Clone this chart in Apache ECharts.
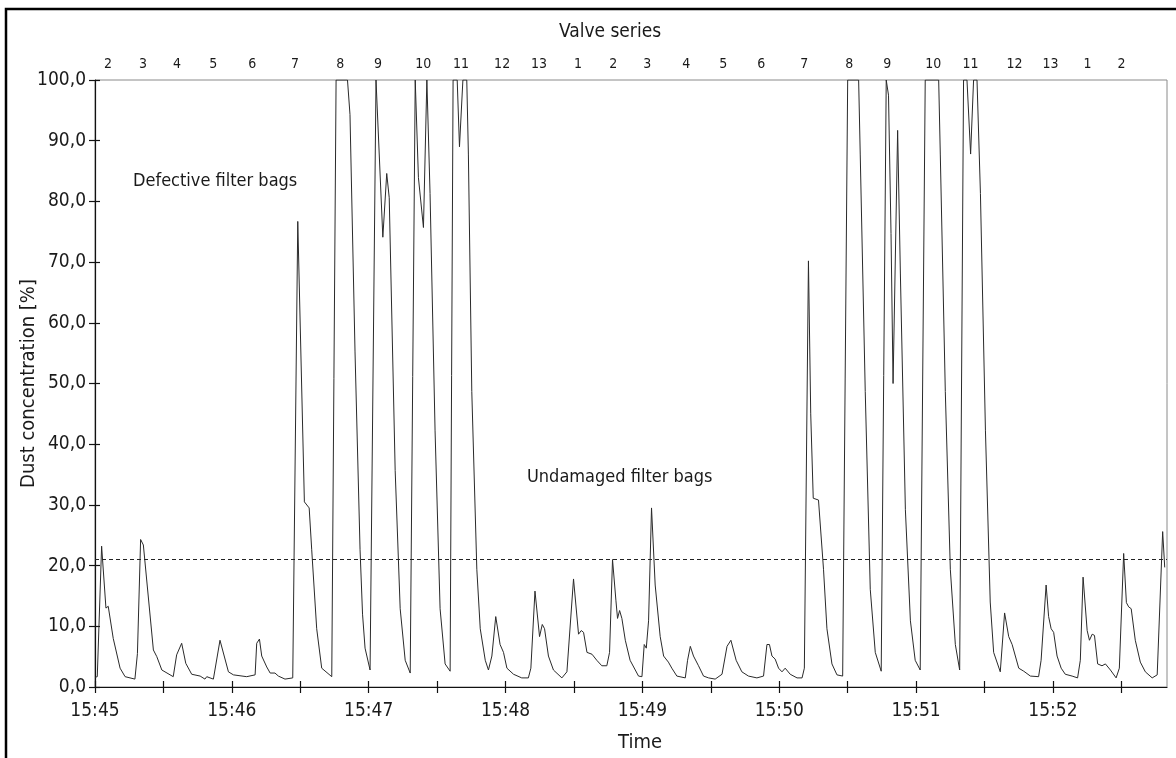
<!DOCTYPE html>
<html>
<head>
<meta charset="utf-8">
<title>Dust concentration</title>
<script src="https://cdn.jsdelivr.net/npm/echarts@6/dist/echarts.min.js"></script>
<style>
  html, body { margin: 0; padding: 0; background: #fff; }
  #chart { width: 1176px; height: 758px; }
</style>
</head>
<body>
<div id="chart"></div>
<script>
// seconds after 15:45:00
let timeTicks = [0, 30, 60, 90, 120, 150, 180, 210, 240, 270, 300, 330, 360, 390, 420, 450];
let timeLabels = [0, 60, 120, 180, 240, 300, 360, 420];

// valve series (top axis) - position in seconds and valve number
let valveSec = [5.7, 21.1, 36.0, 51.8, 68.9, 87.7, 107.5, 124.1, 143.9, 160.5, 178.5, 194.7,
    211.8, 227.2, 242.1, 259.2, 275.4, 292.1, 311.0, 330.7, 347.4, 367.5, 383.8, 403.1, 418.9,
    435.1, 450.0];
let valveNo = ['2', '3', '4', '5', '6', '7', '8', '9', '10', '11', '12', '13',
    '1', '2', '3', '4', '5', '6', '7', '8', '9', '10', '11', '12', '13',
    '1', '2'];

// limit line
let limitValue = 21;

// measured dust concentration [time s, %]
let dust = [
    [0, 1.6], [1.0, 1.7], [2.9, 23.2], [4.8, 13.0], [5.8, 13.3], [8.0, 8.0], [11.0, 3.1], [13.2, 1.7],
    [17.5, 1.3], [18.6, 5.5], [20.0, 24.3], [21.2, 23.4], [25.6, 6.1], [27.1, 5.0], [29.3, 2.8], [34.3, 1.7],
    [35.8, 5.3], [38.0, 7.2], [39.8, 3.9], [42.4, 2.1], [46.1, 1.8], [48.2, 1.3], [49.0, 1.7], [51.9, 1.3],
    [54.8, 7.7], [58.5, 2.5], [60.7, 2.0], [66.5, 1.7], [70.2, 2.0], [70.9, 7.2], [72.1, 7.9], [73.1, 5.1],
    [75.3, 3.3], [76.8, 2.3], [78.9, 2.3], [80.4, 1.8], [83.3, 1.3], [86.7, 1.5],
    [88.9, 76.7], [91.8, 30.5], [93.9, 29.5], [95.0, 22.7], [97.2, 9.6], [99.4, 3.1], [103.8, 1.7],
    [105.7, 100], [110.7, 100], [111.8, 94.3], [114.0, 55.2], [116.2, 22.7], [117.3, 12.0], [118.4, 6.4], [120.6, 2.8],
    [121.4, 2.8], [123.2, 100], [123.8, 100], [126.2, 74.1], [127.9, 84.6], [129.0, 80.6], [131.6, 35.7],
    [133.8, 12.9], [136.0, 4.4], [138.2, 2.3],
    [140.4, 100], [141.8, 83.9], [144.0, 75.7], [145.5, 100], [145.9, 100], [146.9, 81.3], [149.1, 42.2],
    [151.3, 12.9], [153.5, 3.8], [155.7, 2.6],
    [157.0, 100], [158.8, 100], [159.8, 89.0], [161.3, 100], [163.0, 100], [163.7, 87.8], [165.2, 48.7],
    [167.4, 19.4], [168.9, 9.6], [171.1, 4.4], [172.5, 2.8],
    [174.0, 5.1], [175.7, 11.6], [177.6, 7.0], [179.1, 5.7], [180.6, 3.1], [183.5, 2.1], [187.1, 1.5],
    [190.0, 1.5], [191.1, 3.1], [192.9, 15.8], [194.9, 8.3], [196.1, 10.3], [197.1, 9.6], [198.8, 5.1],
    [201.0, 2.8], [204.7, 1.5], [206.9, 2.5], [209.8, 17.8], [212.0, 8.7], [213.2, 9.3], [214.2, 9.0],
    [215.7, 5.7], [217.9, 5.4], [220.0, 4.4], [222.2, 3.5], [224.4, 3.5], [225.6, 5.7], [226.9, 21.0],
    [228.4, 14.2], [229.1, 11.3], [230.0, 12.6], [231.0, 11.3], [232.5, 7.7], [234.6, 4.4], [238.3, 1.8],
    [239.8, 1.7], [240.8, 7.0], [241.7, 6.4], [242.7, 10.9], [244.0, 29.5], [245.6, 16.8], [247.8, 8.3],
    [249.3, 5.1], [251.4, 4.1], [252.9, 3.1], [255.1, 1.8], [258.8, 1.5], [259.8, 4.4], [261.0, 6.7],
    [262.4, 5.1], [264.6, 3.5], [266.8, 1.8], [269.0, 1.5], [271.9, 1.3], [274.9, 2.1], [277.1, 6.7],
    [278.8, 7.7], [281.1, 4.4], [283.6, 2.5], [286.5, 1.8], [290.2, 1.5], [293.1, 1.8], [294.6, 7.0],
    [295.7, 7.0], [296.8, 5.1], [298.2, 4.6], [299.7, 3.1], [301.2, 2.5], [302.6, 3.1], [304.8, 2.1],
    [307.8, 1.5], [310.0, 1.5], [311.0, 3.1],
    [312.8, 70.2], [313.8, 45.0], [314.9, 31.1], [317.2, 30.8], [319.4, 19.4], [320.9, 9.6], [323.1, 3.8],
    [325.3, 2.0], [327.8, 1.8],
    [330.0, 100], [334.8, 100], [335.5, 87.8], [337.7, 48.7], [339.9, 16.1], [342.1, 5.7], [344.7, 2.6],
    [346.9, 100], [347.9, 97.5], [349.0, 74.7], [349.9, 50.0], [351.9, 91.7], [353.1, 68.2], [355.3, 29.2],
    [357.5, 10.9], [359.6, 4.4], [361.8, 2.8],
    [364.0, 100], [369.9, 100], [370.6, 87.8], [372.8, 48.7], [375.0, 19.4], [377.2, 7.0], [379.1, 2.8],
    [380.8, 100], [382.3, 100], [383.9, 87.8], [385.2, 100], [386.7, 100], [388.2, 81.3], [390.4, 42.2],
    [392.5, 14.0], [394.0, 5.7], [396.9, 2.5],
    [398.8, 12.2], [400.6, 8.3], [402.1, 7.0], [405.0, 3.1], [407.2, 2.6], [410.1, 1.8], [413.7, 1.7],
    [414.8, 4.4], [417.0, 16.8], [418.1, 11.6], [419.2, 9.6], [420.3, 9.0], [421.8, 5.1], [423.6, 3.1],
    [425.4, 2.1], [428.4, 1.8], [430.8, 1.5], [432.0, 4.4], [433.2, 18.1], [435.0, 9.3], [436.0, 7.7],
    [437.2, 8.7], [438.2, 8.5], [439.6, 3.8], [441.5, 3.5], [443.0, 3.8], [445.2, 2.8], [447.7, 1.5],
    [449.1, 3.1], [451.0, 22.0], [452.2, 13.9], [453.2, 13.2], [454.3, 12.9], [456.1, 7.7], [458.3, 4.1],
    [460.5, 2.5], [463.5, 1.5], [465.7, 2.0], [466.4, 1.8], [468.1, 25.6], [469.0, 19.7]
];

let fontFam = "'Liberation Sans Narrow', 'DejaVu Sans Condensed', 'Roboto', sans-serif";

function timeText(v) {
    let m = 45 + Math.round(v / 60);
    return '15:' + m;
}

function valveText(v) {
    let best = 0;
    for (let i = 0; i < valveSec.length; i++) {
        if (Math.abs(valveSec[i] - v) < Math.abs(valveSec[best] - v)) best = i;
    }
    return valveNo[best];
}

var myChart = echarts.init(document.getElementById('chart'));

option = {
    animation: false,
    backgroundColor: '#fff',
    textStyle: { fontFamily: fontFam, color: '#1a1a1a' },
    grid: {
        left: 95,
        right: 9,
        top: 80,
        bottom: 71,
        outerBoundsMode: 'none',
        containLabel: false,
        show: true,
        borderColor: '#8a8a8a',
        borderWidth: 1
    },
    xAxis: [{
        type: 'value',
        min: 0,
        max: 470,
        position: 'bottom',
        name: 'Time',
        nameLocation: 'middle',
        nameGap: 46,
        nameMoveOverlap: false,
        nameTextStyle: { fontSize: 20, color: '#1a1a1a', fontFamily: fontFam, padding: [0, 0, 0, 18] },
        axisLine: { lineStyle: { color: '#111', width: 1.2 } },
        axisTick: { show: true, length: 6, customValues: timeTicks, lineStyle: { color: '#111', width: 1.2 } },
        axisLabel: {
            customValues: timeLabels,
            formatter: timeText,
            fontSize: 19,
            color: '#1a1a1a',
            margin: 15,
            fontFamily: fontFam
        },
        splitLine: { show: false }
    }, {
        // inner half of the crossing ticks
        type: 'value',
        min: 0,
        max: 470,
        position: 'bottom',
        axisLine: { show: false },
        axisTick: { show: true, inside: true, length: 6, customValues: timeTicks, lineStyle: { color: '#111', width: 1.2 } },
        axisLabel: { show: false },
        splitLine: { show: false }
    }, {
        type: 'value',
        min: 0,
        max: 470,
        position: 'top',
        name: 'Valve series',
        nameLocation: 'middle',
        nameGap: 38,
        nameMoveOverlap: false,
        nameTextStyle: { fontSize: 19, color: '#1a1a1a', fontFamily: fontFam, padding: [0, 42, 0, 0] },
        axisLine: { show: false },
        axisTick: { show: false },
        axisLabel: {
            customValues: valveSec,
            formatter: valveText,
            fontSize: 14,
            color: '#1a1a1a',
            margin: 9,
            fontFamily: fontFam
        },
        splitLine: { show: false }
    }],
    yAxis: [{
        type: 'value',
        min: 0,
        max: 100,
        interval: 10,
        name: 'Dust concentration [%]',
        nameLocation: 'middle',
        nameGap: 56,
        nameMoveOverlap: false,
        nameTextStyle: { fontSize: 20, color: '#1a1a1a', fontFamily: fontFam },
        axisLine: { show: true, lineStyle: { color: '#111', width: 1.2 } },
        axisTick: { show: true, length: 6, lineStyle: { color: '#111', width: 1.2 } },
        axisLabel: {
            formatter: function (v) { return v.toFixed(1).replace('.', ','); },
            fontSize: 19,
            color: '#1a1a1a',
            margin: 9,
            fontFamily: fontFam
        },
        splitLine: { show: false }
    }, {
        type: 'value',
        min: 0,
        max: 100,
        interval: 10,
        position: 'left',
        axisLine: { show: false },
        axisTick: { show: true, inside: true, length: 5, lineStyle: { color: '#111', width: 1.2 } },
        axisLabel: { show: false },
        splitLine: { show: false }
    }],
    graphic: [{
        type: 'polyline',
        shape: { points: [[6, 758], [6, 9], [1176, 9]] },
        style: { stroke: '#000', lineWidth: 2.5, fill: null }
    }, {
        type: 'text',
        left: 133,
        top: 172,
        style: { text: 'Defective filter bags', font: '18px ' + fontFam, fill: '#1a1a1a' }
    }, {
        type: 'text',
        left: 527,
        top: 468,
        style: { text: 'Undamaged filter bags', font: '18px ' + fontFam, fill: '#1a1a1a' }
    }],
    series: [{
        name: 'Dust concentration',
        type: 'line',
        xAxisIndex: 0,
        yAxisIndex: 0,
        data: dust,
        showSymbol: false,
        symbol: 'none',
        clip: true,
        lineStyle: { color: '#2a2a2a', width: 1 },
        markLine: {
            silent: true,
            symbol: ['none', 'none'],
            label: { show: false },
            lineStyle: { color: '#222', width: 1, type: [4, 3] },
            data: [{ yAxis: limitValue }]
        }
    }]
};
myChart.setOption(option);
</script>
</body>
</html>
